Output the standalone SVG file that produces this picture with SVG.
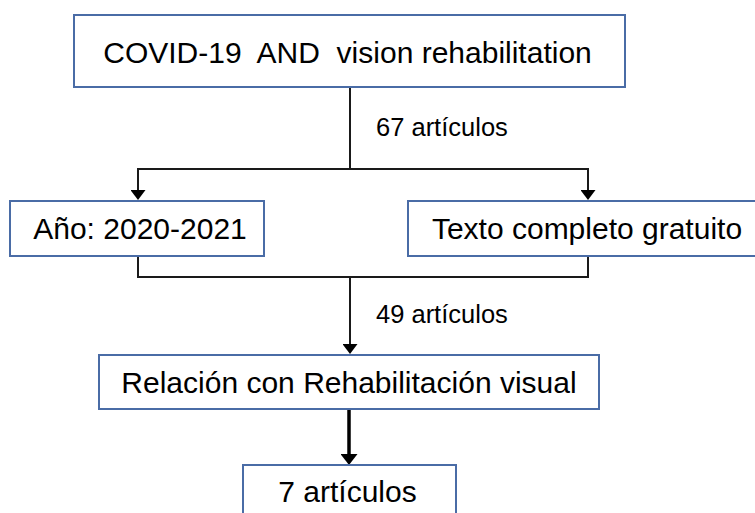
<svg xmlns="http://www.w3.org/2000/svg" width="755" height="513" viewBox="0 0 755 513">
  <style>
    .box { fill: #ffffff; stroke: #4a6ca6; stroke-width: 2; }
    .t { font-family: "Liberation Sans", Arial, sans-serif; font-size: 30px; fill: #000000; }
    .lbl { font-family: "Liberation Sans", Arial, sans-serif; font-size: 25.5px; fill: #000000; }
    .c { fill: none; stroke: #1a1a1a; stroke-width: 2; }
    .ck { fill: none; stroke: #000000; stroke-width: 3.5; }
  </style>
  <defs>
    <marker id="ah" markerUnits="userSpaceOnUse" markerWidth="10" markerHeight="15" viewBox="0 0 10 15" refX="5" refY="7.5" orient="auto">
      <path d="M0,0 L10,7.5 L0,15 z" fill="#000000"/>
    </marker>
    <marker id="ahk" markerUnits="userSpaceOnUse" markerWidth="11" markerHeight="17" viewBox="0 0 11 17" refX="5" refY="8.5" orient="auto">
      <path d="M0,0 L11,8.5 L0,17 z" fill="#000000"/>
    </marker>
  </defs>
  <rect width="755" height="513" fill="#ffffff"/>

  <g id="connectors">
    <path class="c" d="M350,87 V169"/>
    <path class="c" d="M138,169 H588"/>
    <path class="c" d="M138,168 V195" marker-end="url(#ah)"/>
    <path class="c" d="M588,168 V195" marker-end="url(#ah)"/>
    <path class="c" d="M138,256 V277 H588 V256"/>
    <path class="c" d="M350,277 V349" marker-end="url(#ah)"/>
    <path class="ck" d="M349,409 V459" marker-end="url(#ahk)"/>
    <text class="lbl" x="376" y="136">67 artículos</text>
    <text class="lbl" x="376" y="323">49 artículos</text>
  </g>

  <g id="node-search">
    <rect class="box" x="74" y="15" width="551" height="72"/>
    <text class="t" x="347.5" y="63" text-anchor="middle" xml:space="preserve">COVID-19  AND  vision rehabilitation</text>
  </g>
  <g id="node-year">
    <rect class="box" x="10" y="201" width="254" height="55"/>
    <text class="t" x="140" y="239" text-anchor="middle">Año: 2020-2021</text>
  </g>
  <g id="node-fulltext">
    <rect class="box" x="408" y="201" width="360" height="55"/>
    <text class="t" x="587" y="239" text-anchor="middle">Texto completo gratuito</text>
  </g>
  <g id="node-relation">
    <rect class="box" x="99" y="355" width="500" height="54"/>
    <text class="t" x="349" y="392.5" text-anchor="middle">Relación con Rehabilitación visual</text>
  </g>
  <g id="node-result">
    <rect class="box" x="243" y="465" width="213" height="60"/>
    <text class="t" x="347.5" y="502" text-anchor="middle">7 artículos</text>
  </g>
</svg>
